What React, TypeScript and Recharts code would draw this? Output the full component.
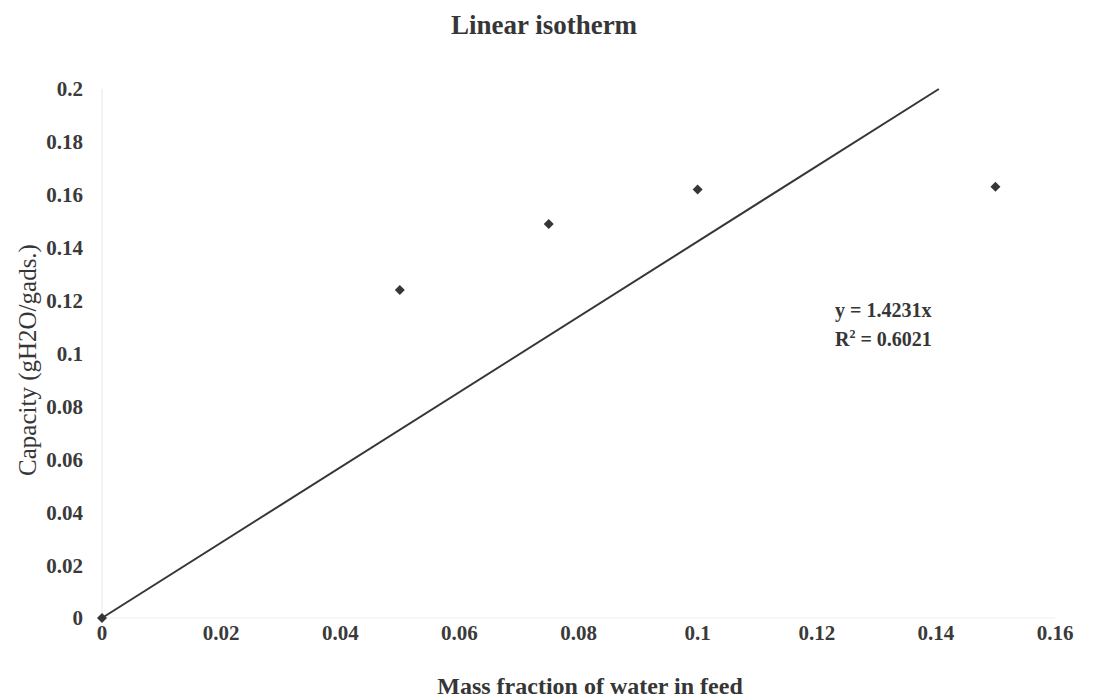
import React from "react";
import {
  ScatterChart,
  Scatter,
  XAxis,
  YAxis,
  ReferenceLine,
} from "recharts";

// measured points (mass fraction of water in feed, capacity)
const massFraction = [0, 0.05, 0.075, 0.1, 0.15];
const capacity = [0, 0.124, 0.149, 0.162, 0.163];

// linear trendline through the origin, y = 1.4231x, drawn up to the top of the plot
const trendStart = { x: 0, y: 0 };
const trendEnd = { x: 0.1405, y: 0.2 };

const xTicks = [0, 0.02, 0.04, 0.06, 0.08, 0.1, 0.12, 0.14, 0.16];
const yTicks = [0, 0.02, 0.04, 0.06, 0.08, 0.1, 0.12, 0.14, 0.16, 0.18, 0.2];

const points = massFraction.map((x, i) => ({ x, y: capacity[i] }));

const FONT = '"Liberation Serif", "Times New Roman", serif';
const INK = "#363636";

const tickStyle = {
  fontFamily: FONT,
  fontSize: 21,
  fontWeight: 700,
  fill: "#3a3a3a",
};

// small square diamond like the Excel marker
const Diamond = (props: any) => {
  const { cx, cy } = props;
  if (cx == null || cy == null) return null;
  const r = 5;
  return (
    <path
      d={`M${cx},${cy - r}L${cx + r},${cy}L${cx},${cy + r}L${cx - r},${cy}Z`}
      fill={INK}
    />
  );
};

const textBase: React.CSSProperties = {
  position: "absolute",
  fontFamily: FONT,
  color: INK,
  lineHeight: 1,
  whiteSpace: "nowrap",
};

export default function App() {
  return (
    <div
      style={{
        position: "absolute",
        left: 0,
        top: 0,
        width: 1096,
        height: 698,
        background: "#ffffff",
      }}
    >
      <ScatterChart
        width={1096}
        height={698}
        margin={{ top: 89, right: 41, bottom: 50, left: 0 }}
      >
        <XAxis
          type="number"
          dataKey="x"
          domain={[0, 0.16]}
          ticks={xTicks}
          interval={0}
          height={30}
          tickLine={false}
          tickSize={0}
          tickMargin={7}
          axisLine={{ stroke: "#efefef", strokeWidth: 1 }}
          tick={tickStyle}
        />
        <YAxis
          type="number"
          dataKey="y"
          domain={[0, 0.2]}
          ticks={yTicks}
          interval={0}
          width={102}
          tickLine={false}
          tickSize={0}
          tickMargin={19}
          axisLine={{ stroke: "#e6e6e6", strokeWidth: 1 }}
          tick={tickStyle}
        />
        <ReferenceLine
          segment={[trendStart, trendEnd]}
          stroke={INK}
          strokeWidth={2}
        />
        <Scatter
          data={points}
          shape={<Diamond />}
          isAnimationActive={false}
        />
      </ScatterChart>

      <div
        style={{
          ...textBase,
          left: 544,
          top: 25,
          transform: "translate(-50%, -50%)",
          fontSize: 27,
          fontWeight: 700,
        }}
      >
        Linear isotherm
      </div>

      <div
        style={{
          ...textBase,
          left: 590,
          top: 686,
          transform: "translate(-50%, -50%)",
          fontSize: 24,
          fontWeight: 700,
        }}
      >
        Mass fraction of water in feed
      </div>

      <div
        style={{
          ...textBase,
          left: 27,
          top: 360,
          transform: "translate(-50%, -50%) rotate(-90deg)",
          fontSize: 25,
          fontWeight: 400,
        }}
      >
        Capacity (gH2O/gads.)
      </div>

      <div
        style={{
          ...textBase,
          left: 835,
          top: 300,
          fontSize: 20,
          fontWeight: 700,
        }}
      >
        y = 1.4231x
      </div>
      <div
        style={{
          ...textBase,
          left: 835,
          top: 328,
          fontSize: 20,
          fontWeight: 700,
        }}
      >
        R<sup style={{ fontSize: 12, verticalAlign: 8 }}>2</sup> = 0.6021
      </div>
    </div>
  );
}
